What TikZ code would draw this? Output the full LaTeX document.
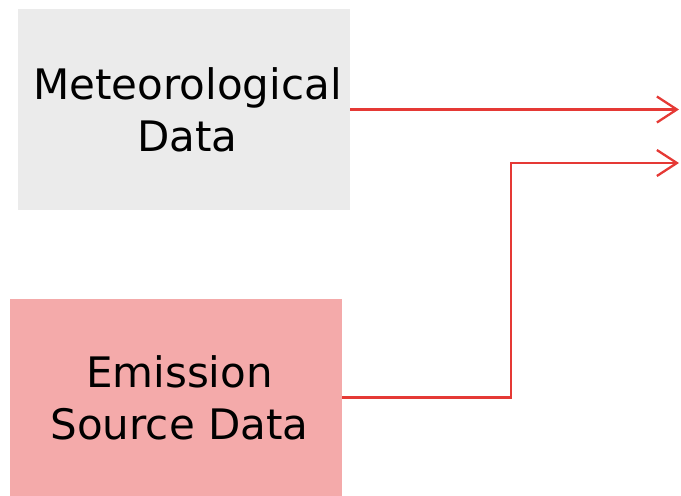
\documentclass[tikz,border=0pt]{standalone}
\usepackage{fontspec}
\setmainfont{DejaVu Sans}
\usepackage{tikz}
\usetikzlibrary{arrows.meta,positioning}
\definecolor{metgray}{HTML}{EBEBEB}
\definecolor{emisspink}{HTML}{F4AAAA}
\definecolor{flowred}{HTML}{E53935}

\begin{document}
\begin{tikzpicture}[x=1pt,y=-1pt,
  databox/.style={rectangle,inner sep=0pt,align=center,font=\fontsize{42}{52}\selectfont},
  flow/.style={flowred,line width=2.3pt,-{Straight Barb[length=20pt,width=26pt]}}]
  \useasboundingbox (0,0) rectangle (681,496);
  % input data boxes
  \node[databox,fill=metgray,minimum width=332pt,minimum height=201pt] (met) at (184,109.5) {\hspace*{7pt}Meteorological\\\hspace*{7pt}Data};
  \node[databox,fill=emisspink,minimum width=332pt,minimum height=197pt] (emis) at (176,397.5) {\hspace*{7pt}Emission\\\hspace*{7pt}Source Data};
  \coordinate (metout) at (679,109.5);
  \coordinate (emisout) at (679,163);
  \draw[flow] (met.east) -- (metout);
  \draw[flow] (emis.east) -- (511,397.5) |- (emisout);
\end{tikzpicture}
\end{document}
